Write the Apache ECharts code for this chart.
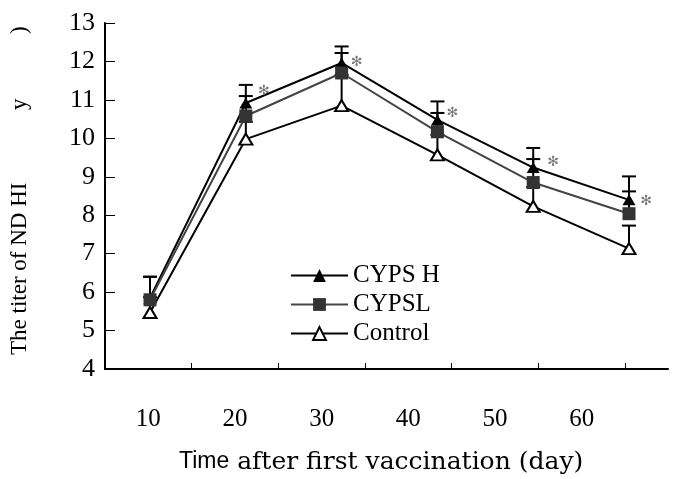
<!DOCTYPE html>
<html>
<head>
<meta charset="utf-8">
<script src="https://cdn.jsdelivr.net/npm/echarts@6/dist/echarts.min.js"></script>
<style>
html,body{margin:0;padding:0;background:#fff;}
#chart{width:673px;height:479px;}
</style>
</head>
<body>
<div id="chart"></div>
<script>
// ---- data ----
const days = [10, 20, 30, 40, 50, 60];
const dayLabels = ['10', '20', '30', '40', '50', '60'];
const cypsh = [5.85, 10.92, 11.96, 10.48, 9.24, 8.40];
const cypshErr = [0.55, 0.47, 0.43, 0.48, 0.51, 0.61];
const cypsl = [5.80, 10.58, 11.70, 10.17, 8.85, 8.04];
const cypslErr = [0.60, 0.52, 0.52, 0.49, 0.61, 0.58];
const control = [5.47, 9.98, 10.85, 9.57, 8.23, 7.13];
const controlErr = [0.40, 0.45, 0.80, 0.52, 0.50, 0.60];
const sigMarks = ['', '✻', '✻', '✻', '✻', '✻'];
const yTicks = [4, 13, 1]; // min, max, interval

// ---- style ----
const sigOffsets = [[0, 0], [18, -12], [15, -1], [15, -7], [20, -5], [17, 2]];
const SERIF = 'Liberation Serif';

function errSeries(vals, errs, color) {
  return {
    type: 'custom', xAxisIndex: 1, yAxisIndex: 1, silent: true, z: 1,
    data: days.map((d, i) => [d, vals[i], vals[i] + errs[i]]),
    renderItem: function (params, api) {
      const p0 = api.coord([api.value(0), api.value(1)]);
      const p1 = api.coord([api.value(0), api.value(2)]);
      const hw = 7;
      return {
        type: 'group',
        children: [
          { type: 'line', shape: { x1: p0[0], y1: p0[1], x2: p1[0], y2: p1[1] }, style: { stroke: color, lineWidth: 2 } },
          { type: 'line', shape: { x1: p1[0] - hw, y1: p1[1], x2: p1[0] + hw, y2: p1[1] }, style: { stroke: color, lineWidth: 2 } }
        ]
      };
    }
  };
}

const chart = echarts.init(document.getElementById('chart'), null, { renderer: 'canvas' });
chart.setOption({
  animation: false,
  backgroundColor: '#fff',
  grid: [
    { left: 105, top: 23, width: 520, bottom: 110 },
    { left: 105, top: 23, right: 5, bottom: 110 }
  ],
  xAxis: [
    {
      type: 'category', gridIndex: 0, data: dayLabels, boundaryGap: true,
      axisLine: { show: false },
      axisTick: { show: true, inside: true, length: 6, lineStyle: { color: '#000', width: 1 } },
      axisLabel: { margin: 38, fontSize: 25, fontFamily: SERIF, color: '#000' },
      splitLine: { show: false }
    },
    {
      type: 'value', gridIndex: 1, min: 5.3, max: 64.07,
      axisLine: { show: true, lineStyle: { color: '#000', width: 2 } },
      axisTick: { show: false }, axisLabel: { show: false }, splitLine: { show: false }
    }
  ],
  yAxis: [
    { type: 'value', gridIndex: 0, min: yTicks[0], max: yTicks[1], show: false },
    {
      type: 'value', gridIndex: 1, min: yTicks[0], max: yTicks[1], interval: yTicks[2],
      axisLine: { show: true, lineStyle: { color: '#000', width: 2 } },
      axisTick: { show: true, inside: true, length: 10, lineStyle: { color: '#000', width: 1 } },
      axisLabel: { margin: 10, fontSize: 26, fontFamily: SERIF, color: '#000' },
      splitLine: { show: false }
    }
  ],
  legend: {
    orient: 'vertical', left: 285, top: 258, itemWidth: 57, itemHeight: 16, itemGap: 4,
    data: ['CYPS H', 'CYPSL', 'Control'],
    textStyle: { fontFamily: SERIF, fontSize: 25, color: '#000', lineHeight: 25 }
  },
  graphic: [
    { type: 'text', x: 20, y: 355, rotation: Math.PI / 2,
      style: { text: 'The titer of ND HI', fontSize: 23, fontFamily: SERIF, fill: '#000', textAlign: 'left', textVerticalAlign: 'middle', align: 'left', verticalAlign: 'middle' } },
    { type: 'text', x: 20, y: 110, rotation: Math.PI / 2,
      style: { text: 'y', fontSize: 23, fontFamily: SERIF, fill: '#000', textAlign: 'left', textVerticalAlign: 'middle', align: 'left', verticalAlign: 'middle' } },
    { type: 'text', x: 20, y: 34, rotation: Math.PI / 2,
      style: { text: ')', fontSize: 23, fontFamily: SERIF, fill: '#000', textAlign: 'left', textVerticalAlign: 'middle', align: 'left', verticalAlign: 'middle' } },
    { type: 'text', x: 179, y: 462,
      style: { text: '{s|Time} after first vaccination (day)', fontSize: 25, fontFamily: 'DejaVu Serif', fill: '#000',
        textAlign: 'left', textVerticalAlign: 'middle', align: 'left', verticalAlign: 'middle',
        rich: { s: { fontSize: 23, fontFamily: 'Liberation Sans', fill: '#000' } } } }
  ],
  series: [
    errSeries(control, controlErr, '#000'),
    errSeries(cypsh, cypshErr, '#000'),
    errSeries(cypsl, cypslErr, '#000'),
    {
      name: 'Control', type: 'line', xAxisIndex: 1, yAxisIndex: 1, z: 3,
      data: days.map((d, i) => [d, control[i]]),
      symbol: 'triangle', symbolSize: [13, 11], showAllSymbol: true,
      itemStyle: { color: '#fff', borderColor: '#000', borderWidth: 2 },
      lineStyle: { color: '#000', width: 2 }
    },
    {
      name: 'CYPS H', type: 'line', xAxisIndex: 1, yAxisIndex: 1, z: 4,
      data: days.map((d, i) => ({ value: [d, cypsh[i]], label: { offset: sigOffsets[i] } })),
      symbol: 'triangle', symbolSize: [13, 11], showAllSymbol: true,
      itemStyle: { color: '#000' },
      lineStyle: { color: '#000', width: 2 },
      label: { show: true, position: 'inside', formatter: p => sigMarks[p.dataIndex],
        color: '#777', fontSize: 14, fontFamily: 'DejaVu Sans' }
    },
    {
      name: 'CYPSL', type: 'line', xAxisIndex: 1, yAxisIndex: 1, z: 5,
      data: days.map((d, i) => [d, cypsl[i]]),
      symbol: 'rect', symbolSize: 13, showAllSymbol: true,
      itemStyle: { color: '#333' },
      lineStyle: { color: '#444', width: 2 }
    }
  ]
});
</script>
</body>
</html>
